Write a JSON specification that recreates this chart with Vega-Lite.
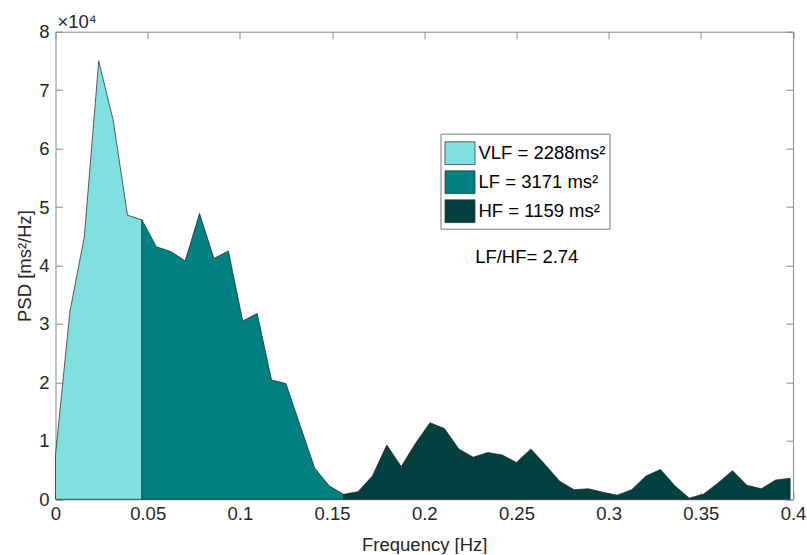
{
  "$schema": "https://vega.github.io/schema/vega-lite/v6.json",
  "autosize": {"type": "none"},
  "padding": {"left": 55.5, "top": 31.7, "right": 14, "bottom": 55},
  "width": 737.5,
  "height": 467.6,
  "background": "white",
  "config": {
    "font": "Liberation Sans",
    "view": {"stroke": null},
    "axis": {
      "labelFont": "Liberation Sans",
      "titleFont": "Liberation Sans",
      "labelFontSize": 18.5,
      "titleFontSize": 18.5,
      "titleFontWeight": "normal",
      "labelColor": "#262626",
      "titleColor": "#262626",
      "domainColor": "#8a8a8a",
      "domainWidth": 1,
      "tickColor": "#8a8a8a",
      "tickSize": -7,
      "grid": false
    }
  },
  "datasets": {
    "psd": [
      {"f": 0, "p": 7600, "band": "VLF"},
      {"f": 0.0078125, "p": 32100, "band": "VLF"},
      {"f": 0.015625, "p": 44900, "band": "VLF"},
      {"f": 0.0234375, "p": 75000, "band": "VLF"},
      {"f": 0.03125, "p": 64900, "band": "VLF"},
      {"f": 0.0390625, "p": 48600, "band": "VLF"},
      {"f": 0.046875, "p": 47800, "band": "VLF"},
      {"f": 0.046875, "p": 47800, "band": "LF"},
      {"f": 0.0546875, "p": 43200, "band": "LF"},
      {"f": 0.0625, "p": 42400, "band": "LF"},
      {"f": 0.0703125, "p": 40800, "band": "LF"},
      {"f": 0.078125, "p": 48900, "band": "LF"},
      {"f": 0.0859375, "p": 41200, "band": "LF"},
      {"f": 0.09375, "p": 42500, "band": "LF"},
      {"f": 0.1015625, "p": 30500, "band": "LF"},
      {"f": 0.109375, "p": 31800, "band": "LF"},
      {"f": 0.1171875, "p": 20400, "band": "LF"},
      {"f": 0.125, "p": 19800, "band": "LF"},
      {"f": 0.1328125, "p": 12500, "band": "LF"},
      {"f": 0.140625, "p": 5300, "band": "LF"},
      {"f": 0.1484375, "p": 2300, "band": "LF"},
      {"f": 0.15625, "p": 850, "band": "LF"},
      {"f": 0.15625, "p": 850, "band": "HF"},
      {"f": 0.1640625, "p": 1300, "band": "HF"},
      {"f": 0.171875, "p": 4000, "band": "HF"},
      {"f": 0.1796875, "p": 9300, "band": "HF"},
      {"f": 0.1875, "p": 5600, "band": "HF"},
      {"f": 0.1953125, "p": 9600, "band": "HF"},
      {"f": 0.203125, "p": 13100, "band": "HF"},
      {"f": 0.2109375, "p": 12100, "band": "HF"},
      {"f": 0.21875, "p": 8600, "band": "HF"},
      {"f": 0.2265625, "p": 7200, "band": "HF"},
      {"f": 0.234375, "p": 8000, "band": "HF"},
      {"f": 0.2421875, "p": 7600, "band": "HF"},
      {"f": 0.25, "p": 6300, "band": "HF"},
      {"f": 0.2578125, "p": 8600, "band": "HF"},
      {"f": 0.265625, "p": 5900, "band": "HF"},
      {"f": 0.2734375, "p": 3100, "band": "HF"},
      {"f": 0.28125, "p": 1650, "band": "HF"},
      {"f": 0.2890625, "p": 1800, "band": "HF"},
      {"f": 0.296875, "p": 1200, "band": "HF"},
      {"f": 0.3046875, "p": 700, "band": "HF"},
      {"f": 0.3125, "p": 1650, "band": "HF"},
      {"f": 0.3203125, "p": 4000, "band": "HF"},
      {"f": 0.328125, "p": 5100, "band": "HF"},
      {"f": 0.3359375, "p": 2300, "band": "HF"},
      {"f": 0.34375, "p": 200, "band": "HF"},
      {"f": 0.3515625, "p": 900, "band": "HF"},
      {"f": 0.359375, "p": 2800, "band": "HF"},
      {"f": 0.3671875, "p": 4900, "band": "HF"},
      {"f": 0.375, "p": 2400, "band": "HF"},
      {"f": 0.3828125, "p": 1800, "band": "HF"},
      {"f": 0.390625, "p": 3300, "band": "HF"},
      {"f": 0.3984375, "p": 3600, "band": "HF"}
    ],
    "notes": [
      {"f": 0, "p": 80000, "t": "×10⁴", "kind": "exp"},
      {"f": 0.2556, "p": 41500, "t": "LF/HF= 2.74", "kind": "ratio"}
    ]
  },
  "layer": [
    {
      "data": {"name": "psd"},
      "mark": {"type": "area", "stroke": "#1f1f1f", "strokeWidth": 0.7, "interpolate": "linear"},
      "encoding": {
        "x": {
          "field": "f", "type": "quantitative",
          "scale": {"domain": [0, 0.4], "nice": false},
          "axis": {"orient": "bottom", "values": [0, 0.05, 0.1, 0.15, 0.2, 0.25, 0.3, 0.35, 0.4], "format": "~g", "title": "Frequency [Hz]", "labelPadding": 12, "titlePadding": 13, "labelFlush": false}
        },
        "y": {
          "field": "p", "type": "quantitative", "stack": null,
          "scale": {"domain": [0, 80000], "nice": false},
          "axis": {"orient": "left", "values": [0, 10000, 20000, 30000, 40000, 50000, 60000, 70000, 80000], "labelExpr": "format(datum.value / 10000, 'd')", "title": "PSD [ms²/Hz]", "labelPadding": 13.5, "titlePadding": 4}
        },
        "color": {
          "field": "band", "type": "nominal",
          "scale": {"domain": ["VLF", "LF", "HF"], "range": ["#80dfdf", "#008080", "#024040"]},
          "legend": {
            "orient": "none", "legendX": 385, "legendY": 102, "title": null,
            "symbolType": "M-1,-0.76H1V0.76H-1Z", "symbolSize": 900,
            "symbolStrokeColor": "#333333", "symbolStrokeWidth": 0.75, "symbolOpacity": 1,
            "labelFont": "Liberation Sans", "labelFontSize": 18.5, "labelColor": "#000000", "labelOffset": 3, "labelLimit": 300,
            "padding": 4, "rowPadding": 0, "strokeColor": "#7a7a7a", "fillColor": "white",
            "labelExpr": "datum.value == 'VLF' ? 'VLF = 2288ms²' : datum.value == 'LF' ? 'LF = 3171 ms²' : 'HF = 1159 ms²'"
          }
        }
      }
    },
    {
      "data": {"name": "psd"},
      "mark": {"type": "point", "opacity": 0},
      "encoding": {
        "x": {"field": "f", "type": "quantitative", "scale": {"domain": [0, 0.4], "nice": false},
              "axis": {"orient": "top", "values": [0, 0.05, 0.1, 0.15, 0.2, 0.25, 0.3, 0.35, 0.4], "labels": false, "title": null}},
        "y": {"field": "p", "type": "quantitative", "scale": {"domain": [0, 80000], "nice": false},
              "axis": {"orient": "right", "values": [0, 10000, 20000, 30000, 40000, 50000, 60000, 70000, 80000], "labels": false, "title": null}}
      }
    },
    {
      "data": {"name": "notes"},
      "transform": [{"filter": "datum.kind == 'exp'"}],
      "mark": {"type": "text", "align": "left", "baseline": "alphabetic", "dx": 2, "dy": -4, "fontSize": 18.5, "color": "#262626", "font": "Liberation Sans"},
      "encoding": {
        "x": {"field": "f", "type": "quantitative", "axis": null},
        "y": {"field": "p", "type": "quantitative", "axis": null},
        "text": {"field": "t"}
      }
    },
    {
      "data": {"name": "notes"},
      "transform": [{"filter": "datum.kind == 'ratio'"}],
      "mark": {"type": "text", "align": "center", "baseline": "middle", "fontSize": 18.5, "color": "#000000", "font": "Liberation Sans"},
      "encoding": {
        "x": {"field": "f", "type": "quantitative", "axis": null},
        "y": {"field": "p", "type": "quantitative", "axis": null},
        "text": {"field": "t"}
      }
    }
  ],
  "resolve": {"axis": {"x": "independent", "y": "independent"}}
}
